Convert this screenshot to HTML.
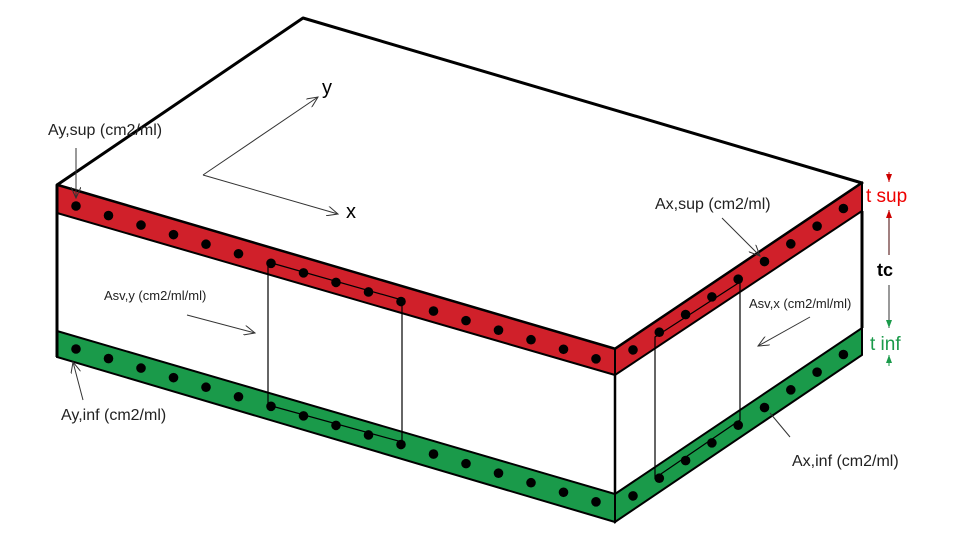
<!DOCTYPE html>
<html><head><meta charset="utf-8"><style>
html,body{margin:0;padding:0;background:#fff;width:970px;height:539px;overflow:hidden}
svg text{font-family:"Liberation Sans",Arial,sans-serif}
</style></head><body>
<svg id="s" width="970" height="539" viewBox="0 0 970 539" xmlns="http://www.w3.org/2000/svg">
<defs>
<marker id="a" markerWidth="12" markerHeight="10" refX="11" refY="5" orient="auto" markerUnits="userSpaceOnUse"><path d="M0,0 L11,5 L0,10" fill="none" stroke="#333" stroke-width="1"/></marker>
<marker id="r" markerWidth="8" markerHeight="6" refX="8" refY="3" orient="auto" markerUnits="userSpaceOnUse"><path d="M0,0 L8,3 L0,6Z" fill="#c00"/></marker>
<marker id="g" markerWidth="8" markerHeight="6" refX="8" refY="3" orient="auto" markerUnits="userSpaceOnUse"><path d="M0,0 L8,3 L0,6Z" fill="#1a9a4a"/></marker>
</defs>
<polygon points="57,185 303,18 862,183 615,349" fill="#fff" stroke="#000" stroke-width="3" stroke-linejoin="round"/>
<polygon points="57,185 615,349 615,522 57,357" fill="#fff"/>
<polygon points="615,349 862,183 862,355 615,522" fill="#fff"/>
<polygon points="57,185 615,349 615,375 57,213" fill="#d0202a" stroke="#000" stroke-width="2"/>
<polygon points="615,349 862,183 862,211 615,375" fill="#d0202a" stroke="#000" stroke-width="2"/>
<polygon points="57,331 615,494 615,522 57,357" fill="#1a9a4a" stroke="#000" stroke-width="2"/>
<polygon points="615,494 862,328 862,355 615,522" fill="#1a9a4a" stroke="#000" stroke-width="2"/>
<line x1="57" y1="185" x2="57" y2="357" stroke="#000" stroke-width="3"/>
<line x1="615" y1="375" x2="615" y2="494" stroke="#000" stroke-width="2.5"/>
<line x1="862" y1="211" x2="862" y2="328" stroke="#000" stroke-width="3"/>
<g id="dots" fill="#000"></g>
<polygon points="268,262 402,300 402,442 268,405" fill="none" stroke="#000" stroke-width="1.2"/>
<polygon points="655,337 740,282 740,420 655,478" fill="none" stroke="#000" stroke-width="1.2"/>
<line x1="203" y1="175" x2="318" y2="97" stroke="#333" stroke-width="1" marker-end="url(#a)"/>
<line x1="203" y1="175" x2="338" y2="214" stroke="#333" stroke-width="1" marker-end="url(#a)"/>
<text x="322" y="94" font-size="20">y</text>
<text x="346" y="218" font-size="20">x</text>
<text x="48" y="135" font-size="16" fill="#222">Ay,sup (cm2/ml)</text>
<line x1="76" y1="148" x2="76" y2="198" stroke="#333" stroke-width="1" marker-end="url(#a)"/>
<text x="104" y="300" font-size="13" fill="#222">Asv,y (cm2/ml/ml)</text>
<line x1="187" y1="315" x2="255" y2="333" stroke="#333" stroke-width="1" marker-end="url(#a)"/>
<text x="61" y="420" font-size="16" fill="#222">Ay,inf (cm2/ml)</text>
<line x1="83" y1="400" x2="73" y2="362" stroke="#333" stroke-width="1" marker-end="url(#a)"/>
<text x="655" y="209" font-size="16" fill="#222">Ax,sup (cm2/ml)</text>
<line x1="722" y1="218" x2="760" y2="256" stroke="#333" stroke-width="1" marker-end="url(#a)"/>
<text x="749" y="308" font-size="13" fill="#222">Asv,x (cm2/ml/ml)</text>
<line x1="810" y1="317" x2="758" y2="346" stroke="#333" stroke-width="1" marker-end="url(#a)"/>
<text x="792" y="466" font-size="16" fill="#222">Ax,inf (cm2/ml)</text>
<line x1="790" y1="437" x2="770" y2="413" stroke="#333" stroke-width="1"/>
<text x="866" y="202" font-size="19" fill="#e00">t sup</text>
<line x1="889" y1="172" x2="889" y2="182" stroke="#c00" stroke-width="1" marker-end="url(#r)"/>
<line x1="889" y1="255" x2="889" y2="210" stroke="#400" stroke-width="1" marker-end="url(#r)"/>
<text x="877" y="276" font-size="18" font-weight="bold">tc</text>
<line x1="889" y1="285" x2="889" y2="328" stroke="#333" stroke-width="1" marker-end="url(#g)"/>
<text x="870" y="350" font-size="19" fill="#1a9a4a">t inf</text>
<line x1="889" y1="366" x2="889" y2="355" stroke="#1a9a4a" stroke-width="1" marker-end="url(#g)"/>
</svg>
<script>
var g=document.getElementById('dots'),ns='http://www.w3.org/2000/svg';
function d(x,y){var c=document.createElementNS(ns,'circle');c.setAttribute('cx',x);c.setAttribute('cy',y);c.setAttribute('r',4.8);g.appendChild(c);}
var m=164/558;
for(var x=76;x<600;x+=32.5){d(x,206+(x-76)*m);d(x,349+(x-76)*m);}
for(var i=0;i<9;i++){var x=633+i*26.3,t=(x-615)/247;d(x,362-t*166);d(x,508-t*166);}
</script>
</body></html>
